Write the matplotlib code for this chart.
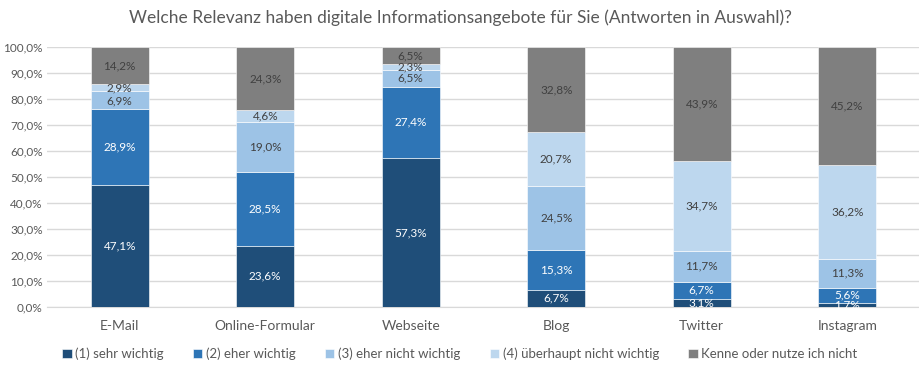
import numpy as np
import matplotlib.pyplot as plt
from matplotlib.ticker import FuncFormatter

plt.rcParams['font.family'] = ['Lato', 'DejaVu Sans']

CATEGORIES = ["E-Mail", "Online-Formular", "Webseite", "Blog", "Twitter", "Instagram"]
SERIES = [
    "(1) sehr wichtig",
    "(2) eher wichtig",
    "(3) eher nicht wichtig",
    "(4) überhaupt nicht wichtig",
    "Kenne oder nutze ich nicht",
]
SEHR_WICHTIG = [47.1, 23.6, 57.3, 6.7, 3.1, 1.7]
EHER_WICHTIG = [28.9, 28.5, 27.4, 15.3, 6.7, 5.6]
EHER_NICHT = [6.9, 19.0, 6.5, 24.5, 11.7, 11.3]
UEBERHAUPT_NICHT = [2.9, 4.6, 2.3, 20.7, 34.7, 36.2]
KENNE_NICHT = [14.2, 24.3, 6.5, 32.8, 43.9, 45.2]

COLORS = ["#1F4E79", "#2E75B6", "#9DC3E6", "#BDD7EE", "#7F7F7F"]
LABEL_COLORS = ["white", "white", "#404040", "#404040", "#404040"]
TEXT_GREY = "#595959"


def pct(v):
    return f"{v:.1f}".replace(".", ",") + "%"


def main():
    values = np.array([SEHR_WICHTIG, EHER_WICHTIG, EHER_NICHT, UEBERHAUPT_NICHT, KENNE_NICHT])
    x = np.arange(len(CATEGORIES))

    fig = plt.figure(figsize=(9.2, 3.75), dpi=100)
    ax = fig.add_axes([47 / 920, 1 - 307 / 375, 873 / 920, 260 / 375])

    bottom = np.zeros(len(CATEGORIES))
    for i, name in enumerate(SERIES):
        bars = ax.bar(x, values[i], 0.4, bottom=bottom, color=COLORS[i],
                      edgecolor="white", linewidth=0.4, label=name, zorder=3)
        for j, rect in enumerate(bars):
            yc = bottom[j] + values[i][j] / 2
            ax.text(x[j], yc, pct(values[i][j]), ha="center", va="center",
                    fontsize=8.5, color=LABEL_COLORS[i], zorder=4)
        bottom += values[i]

    ax.set_xlim(-0.5, len(CATEGORIES) - 0.5)
    ax.set_ylim(0, 100)
    ax.set_yticks(np.arange(0, 101, 10))
    ax.yaxis.set_major_formatter(FuncFormatter(lambda v, p: pct(v)))
    ax.set_xticks(x)
    ax.set_xticklabels(CATEGORIES)
    ax.tick_params(axis="both", length=0, colors=TEXT_GREY)
    ax.tick_params(axis="x", pad=9, labelsize=10)
    ax.tick_params(axis="y", pad=3, labelsize=8.5)
    ax.grid(axis="y", color="#D9D9D9", linewidth=1, zorder=0)
    for side in ["top", "right", "left"]:
        ax.spines[side].set_visible(False)
    ax.spines["bottom"].set_color("#D9D9D9")

    fig.suptitle("Welche Relevanz haben digitale Informationsangebote für Sie (Antworten in Auswahl)?",
                 x=0.5, y=0.975, fontsize=12.5, color=TEXT_GREY)

    handles, labels = ax.get_legend_handles_labels()
    fig.legend(handles, labels, loc="center", bbox_to_anchor=(0.5, 1 - 354 / 375),
               ncol=5, frameon=False, fontsize=9.5, handlelength=0.7, handleheight=0.7,
               handletextpad=0.3, columnspacing=2.2, labelcolor=TEXT_GREY)

    fig.savefig("out.png", dpi=100)


if __name__ == "__main__":
    main()
